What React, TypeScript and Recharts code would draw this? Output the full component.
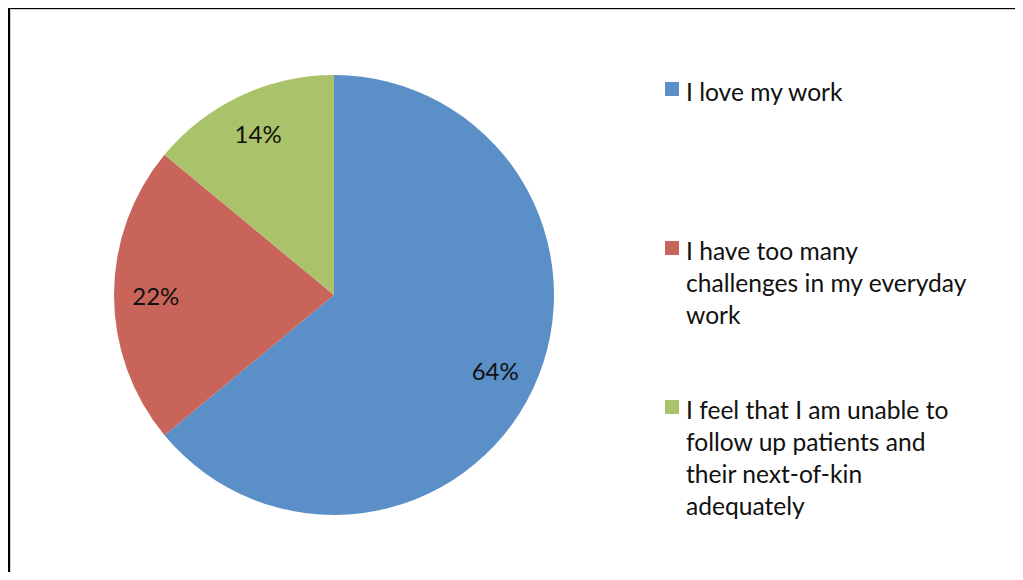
import { PieChart, Pie, Cell, Legend } from 'recharts';

// survey answers, share of respondents (%)
const categories = [
  'I love my work',
  'I have too many\nchallenges in my everyday\nwork',
  'I feel that I am unable to\nfollow up patients and\ntheir next-of-kin\nadequately',
];
const shares = [64, 22, 14];

const COLORS = ['#5B8FC7', '#C9645A', '#AAC26A'];
const FONT = 'Lato, "Open Sans", sans-serif';

const data = categories.map((name, i) => ({ name, value: shares[i] }));

const RADIAN = Math.PI / 180;

const renderLabel = (props: any) => {
  const { cx, cy, midAngle, outerRadius, value } = props;
  const r = outerRadius * 0.81;
  const x = cx + r * Math.cos(-midAngle * RADIAN);
  const y = cy + r * Math.sin(-midAngle * RADIAN);
  return (
    <text x={x} y={y} fill="#111" textAnchor="middle" dominantBaseline="central" fontSize={24} fontFamily={FONT}>
      {`${value}%`}
    </text>
  );
};

const renderLegend = (props: any) => {
  // keep the legend in the data order (top to bottom)
  const items = [...(props.payload || [])].sort(
    (a: any, b: any) => categories.indexOf(a.value) - categories.indexOf(b.value)
  );
  return (
    <div style={{ fontFamily: FONT, fontSize: 24.6, lineHeight: '32px', color: '#111' }}>
      {items.map((entry: any, i: number) => (
        <div key={`leg-${i}`} style={{ height: 159, display: 'flex', alignItems: 'flex-start' }}>
          <div style={{ width: 14, height: 14, marginTop: 6, marginRight: 7, background: entry.color, flexShrink: 0 }} />
          <div style={{ whiteSpace: 'pre-line' }}>{entry.value}</div>
        </div>
      ))}
    </div>
  );
};

export default function App() {
  return (
    <div style={{ position: 'relative', width: 1007, height: 564 }}>
      <div
        style={{
          position: 'absolute',
          left: -1,
          top: -2,
          width: 1016,
          height: 574,
          borderTop: '3px solid #000',
          borderLeft: '3px solid #000',
          boxSizing: 'border-box',
        }}
      >
        <div style={{ width: '100%', height: '100%', borderTop: '1px solid #cfcfcf', borderLeft: '1px solid #cfcfcf', boxSizing: 'border-box' }} />
      </div>
      <div style={{ position: 'absolute', left: 0, top: 0 }}>
        <PieChart width={1007} height={564} margin={{ top: 0, right: 0, bottom: 0, left: 0 }}>
          <Pie
            data={data}
            dataKey="value"
            nameKey="name"
            cx={326}
            cy={287}
            outerRadius={220}
            startAngle={90}
            endAngle={-270}
            stroke="none"
            labelLine={false}
            label={renderLabel}
            isAnimationActive={false}
          >
            {data.map((entry, index) => (
              <Cell key={`cell-${index}`} fill={COLORS[index % COLORS.length]} />
            ))}
          </Pie>
          <Legend
            layout="vertical"
            align="right"
            verticalAlign="top"
            content={renderLegend}
            wrapperStyle={{ left: 657, top: 68, width: 340 }}
          />
        </PieChart>
      </div>
    </div>
  );
}
